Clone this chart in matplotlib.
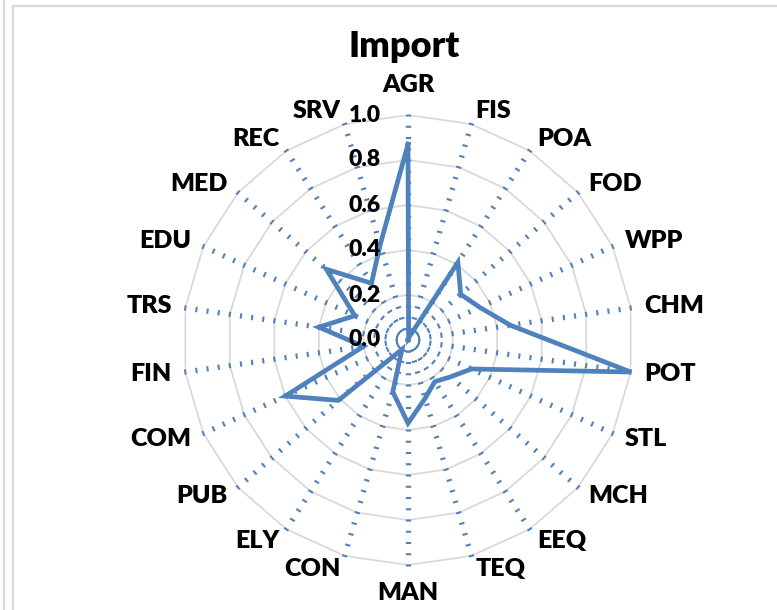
import numpy as np
import matplotlib
matplotlib.use("Agg")
import matplotlib.pyplot as plt
from matplotlib.transforms import offset_copy
from matplotlib.patches import Rectangle
from matplotlib.lines import Line2D

plt.rcParams["font.family"] = ["Lato", "DejaVu Sans"]
plt.rcParams["lines.scale_dashes"] = False

# ---- data ----
categories = ["AGR", "FIS", "POA", "FOD", "WPP", "CHM", "POT", "STL", "MCH", "EEQ", "TEQ",
              "MAN", "CON", "ELY", "PUB", "COM", "FIN", "TRS", "EDU", "MED", "REC", "SRV"]
import_vals = [0.87, 0.01, 0.41, 0.31, 0.35, 0.46, 1.00, 0.31, 0.25, 0.22, 0.27,
               0.37, 0.24, 0.05, 0.41, 0.60, 0.20, 0.40, 0.26, 0.48, 0.30, 0.44]
r_ticks = [0.0, 0.2, 0.4, 0.6, 0.8, 1.0]
minor_step = 0.05

BLUE = "#4F81BD"
GRID = "#D9D9D9"
WT = "heavy"

W, H = 777, 610
fig = plt.figure(figsize=(W / 100, H / 100), dpi=100)

# chart frame (Excel-style)
fig.add_artist(Rectangle((13 / W, -0.05), 1.05, 1 - 6 / H + 0.05, transform=fig.transFigure,
                         fill=False, ec=GRID, lw=1.6))
fig.add_artist(Line2D([4 / W, 4 / W], [0, 1], transform=fig.transFigure, color=GRID, lw=1.6))

cx, cy, R = 408, 340, 225
ax = fig.add_axes([(cx - R) / W, 1 - (cy + R) / H, 2 * R / W, 2 * R / H], projection="polar")
ax.set_theta_zero_location("N")
ax.set_theta_direction(-1)
ax.set_ylim(0, 1)
ax.axis("off")

n = len(categories)
theta = np.arange(n) * 2 * np.pi / n
theta_c = np.append(theta, theta[0])

# polygonal gridlines
for r in r_ticks[1:]:
    ax.plot(theta_c, [r] * (n + 1), color=GRID, lw=1.3, zorder=1)

# spokes: tick marks every 0.05
period = R * minor_step * 72 / 100  # points
on = 1.5
for t in theta:
    ax.plot([t, t], [0, 1.005], color=BLUE, lw=3.8, solid_capstyle="butt",
            dash_capstyle="butt", ls=(on / 2, (on, period - on)), zorder=2, clip_on=False)

# data series
vals_c = import_vals + import_vals[:1]
ax.plot(theta_c, vals_c, color=BLUE, lw=3.4, solid_joinstyle="miter", zorder=4)

# radial value labels
tr = offset_copy(ax.transData, fig=fig, x=-27, y=0, units="dots")
for r in r_ticks:
    ax.text(0, r, f"{r:.1f}", transform=tr, ha="right", va="center",
            fontsize=16.5, fontweight=WT, zorder=5)

# category labels
for t, lab in zip(theta, categories):
    s, c = np.sin(t), np.cos(t)
    if abs(s) < 0.2:
        if c > 0:
            ax.text(t, 1.102, lab, ha="center", va="baseline", fontsize=18, fontweight=WT)
        else:
            ax.text(t, 1.075, lab, ha="center", va="top", fontsize=18, fontweight=WT)
    else:
        ax.text(t, 1.06, lab, ha="left" if s > 0 else "right", va="center",
                fontsize=18, fontweight=WT)

fig.text(404 / W, 1 - 57 / H, "Import", ha="center", va="baseline",
         fontsize=26, fontweight=WT)

fig.savefig("out.png", dpi=100)
